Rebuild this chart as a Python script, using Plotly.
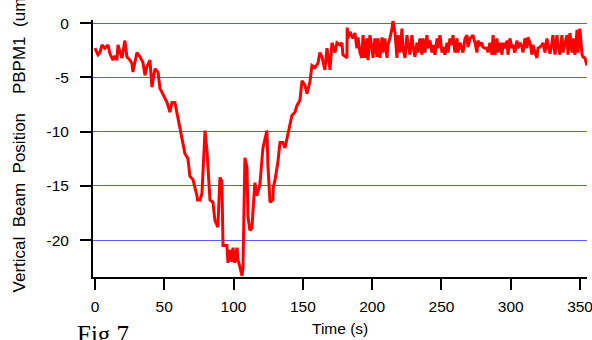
import plotly.graph_objects as go

time_s = [0.0, 2.2, 3.6, 5.1, 7.2, 9.4, 10.8, 13.0, 14.4, 15.9, 16.6, 18.0, 19.5, 21.6, 23.1, 25.3, 26.7, 27.4, 28.9, 30.3,
          32.5, 34.6, 36.1, 37.5, 39.7, 41.1, 43.3, 45.5, 46.9, 49.1, 52.0, 54.1, 55.6, 57.7, 59.2, 61.3, 62.8, 64.9, 67.1, 68.5,
          70.7, 72.2, 73.6, 74.0, 75.8, 77.2, 77.9, 79.4, 80.8, 81.5, 83.0, 85.1, 86.6, 88.7, 90.2, 91.6, 92.4, 95.2, 96.0, 97.4,
          98.8, 99.6, 101.0, 102.5, 103.2, 104.6, 106.1, 106.8, 108.2, 109.7, 110.4, 111.8, 113.3, 114.0, 115.4, 116.9, 119.0, 121.2, 124.1, 124.8,
          126.3, 128.4, 128.7, 129.9, 132.0, 133.5, 135.6, 137.1, 139.2, 140.7, 142.1, 144.3, 145.7, 147.9, 149.4, 151.5, 153.0, 155.1, 156.6, 158.7,
          160.9, 162.3, 163.8, 165.9, 167.4, 169.6, 171.0, 173.2, 174.6, 176.8, 178.2, 178.9, 181.8, 182.0, 182.5,
          184.0, 186.1, 187.6, 189.0, 189.8, 191.2, 192.6, 193.4, 194.8, 196.2, 197.0, 198.4, 199.9, 200.6, 202.0, 203.5, 204.2, 205.6, 207.1, 207.8,
          209.2, 210.7, 211.4, 212.8, 214.3, 215.0, 216.5, 217.9, 218.6, 220.1, 221.5, 222.2, 223.7, 225.1, 225.8, 227.3, 228.7, 229.4, 230.9, 232.3,
          233.0, 234.5, 235.9, 236.7, 238.1, 239.5, 240.3, 241.7, 243.1, 243.9, 245.3, 246.8, 247.5, 248.9, 250.4, 251.1, 252.5, 254.0, 254.7, 256.1,
          257.6, 258.3, 259.7, 261.2, 261.9, 263.3, 265.5, 267.0, 268.4, 269.1, 270.6, 272.7, 274.2, 275.6, 276.3, 277.8, 279.2, 279.9, 281.4, 282.8,
          283.5, 285.0, 286.4, 287.2, 288.6, 290.0, 290.8, 292.2, 293.7, 294.4, 295.8, 297.3, 298.0, 299.4, 300.9, 301.6, 303.0, 304.5, 305.2, 306.6,
          308.1, 308.8, 310.2, 311.7, 312.4, 313.9, 315.3, 316.0, 317.5, 318.9, 319.6, 321.1, 322.5, 323.2, 324.7, 326.1, 326.8, 328.3, 329.7, 330.4,
          331.9, 333.3, 334.0, 335.5, 336.9, 337.7, 340.5, 341.3, 342.7, 344.2, 344.9, 346.3, 347.8, 348.5, 349.9, 351.4, 352.1, 353.5, 355.0]

position_um = [-2.3, -2.9, -2.7, -2.0, -2.3, -2.0, -2.8, -3.4, -3.0, -3.4, -2.0, -2.6, -3.2, -1.6, -3.1, -3.4, -3.7, -4.5, -3.5, -2.7,
               -3.1, -3.6, -4.8, -4.0, -3.4, -5.9, -4.2, -4.5, -6.0, -6.6, -7.3, -8.2, -7.3, -7.3, -8.3, -9.6, -10.8, -12.0, -12.5, -14.1,
               -14.4, -15.1, -15.9, -16.3, -16.3, -15.7, -13.3, -9.9, -11.7, -13.1, -16.3, -16.5, -18.2, -18.8, -14.2, -14.6, -20.5, -20.5, -22.1, -20.9,
               -22.0, -20.7, -22.1, -20.7, -21.8, -22.5, -23.3, -22.6, -12.4, -13.3, -17.8, -19.1, -18.9, -17.4, -14.7, -15.9, -14.9, -11.5, -9.9, -13.1,
               -16.5, -16.3, -15.1, -14.5, -12.8, -11.0, -11.0, -11.5, -10.3, -9.4, -8.5, -8.2, -7.6, -7.1, -5.3, -5.7, -6.5, -5.4, -3.9, -4.1,
               -3.7, -2.7, -3.1, -4.3, -2.3, -4.3, -1.8, -2.7, -1.8, -2.0, -1.8, -2.9, -3.2, -0.4, -1.4,
               -0.8, -1.4, -0.9, -2.3, -1.3, -2.7, -3.2, -1.1, -3.2, -1.4, -3.4, -1.1, -2.3, -3.2, -1.4, -3.1, -1.4, -3.2, -1.3, -2.7,
               -1.4, -3.2, -2.0, -1.4, -0.5, 0.2, -0.9, -3.2, -1.1, -2.7, -0.5, -2.3, -3.2, -1.1, -1.8, -2.9, -1.1, -2.0, -3.1, -1.8,
               -2.7, -1.4, -2.9, -1.4, -2.7, -1.1, -2.3, -1.6, -2.7, -2.0, -2.9, -1.4, -2.3, -1.1, -2.7, -2.2, -2.9, -1.8, -2.7, -1.4,
               -2.0, -1.1, -2.7, -1.4, -2.7, -1.8, -2.7, -1.4, -1.1, -2.2, -1.4, -1.1, -1.8, -2.7, -1.6, -2.0, -1.8, -2.2, -2.3, -2.3,
               -2.7, -1.8, -2.9, -1.1, -2.9, -1.4, -2.7, -1.8, -2.9, -1.8, -2.3, -1.6, -2.9, -1.4, -2.3, -2.0, -2.7, -1.6, -2.3, -1.8,
               -2.2, -2.7, -1.4, -2.3, -1.3, -1.8, -2.9, -2.0, -2.7, -3.2, -2.3, -2.2, -2.0, -1.8, -2.7, -1.4, -2.0, -2.8, -1.8, -1.1,
               -2.9, -1.1, -2.0, -2.9, -1.1, -2.7, -1.1, -2.9, -0.9, -2.7, -1.4, -2.9, -0.6, -2.7, -0.5, -2.9, -3.1, -3.2, -3.9]

x_ticks = [0, 50, 100, 150, 200, 250, 300, 350]
x_tick_labels = ["0", "50", "100", "150", "200", "250", "300", "350"]
y_ticks = [0, -5, -10, -15, -20]
y_tick_labels = ["0", "-5", "-10", "-15", "-20"]

font_family = "Arial, Liberation Sans, sans-serif"

fig = go.Figure()
fig.add_trace(go.Scatter(
    x=time_s, y=position_um, mode="lines",
    line=dict(color="#ff0000", width=3),
    showlegend=False,
))

fig.update_layout(
    width=592, height=340,
    margin=dict(l=93, r=5, t=20, b=63, autoexpand=False),
    paper_bgcolor="white", plot_bgcolor="white",
    font=dict(family=font_family, size=15.5, color="black"),
    xaxis=dict(
        range=[-1.4, 355], showgrid=False, zeroline=False, automargin=False,
        showline=True, linecolor="black", linewidth=2,
        ticks="outside", ticklen=11, tickwidth=2, tickcolor="black",
        tickvals=x_ticks, ticktext=x_tick_labels, ticklabelstandoff=3,
        ticklabeloverflow="allow",
        tickfont=dict(size=15.5),
    ),
    yaxis=dict(
        range=[-23.4, 0.3], showgrid=True, gridcolor="#5a5aff", gridwidth=1,
        zeroline=False, showline=True, linecolor="black", linewidth=2, automargin=False,
        ticks="outside", ticklen=11, tickwidth=2, tickcolor="black",
        tickvals=y_ticks, ticktext=y_tick_labels, ticklabelstandoff=8,
        ticklabeloverflow="allow",
        tickfont=dict(size=15.5),
    ),
    annotations=[
        dict(text="Time (s)", xref="paper", yref="paper", x=0.5, y=-0.2,
             xanchor="center", yanchor="middle", showarrow=False,
             font=dict(size=15.5)),
        dict(text="Vertical\u00a0\u00a0Beam\u00a0\u00a0Position\u00a0\u00a0\u00a0\u00a0PBPM1\u00a0\u00a0(um)",
             xref="paper", yref="paper", x=-0.148, y=0.523, textangle=-90,
             xanchor="center", yanchor="middle", showarrow=False,
             font=dict(size=17)),
        dict(text="Fig.7", xref="paper", yref="paper", x=-0.036, y=-0.163,
             xanchor="left", yanchor="top", showarrow=False,
             font=dict(family="Times New Roman, Liberation Serif, serif", size=25, color="black")),
    ],
)

fig.write_html("out.html", config={"displayModeBar": False},
               post_script="document.body.style.margin='0';document.body.style.overflow='hidden';")
